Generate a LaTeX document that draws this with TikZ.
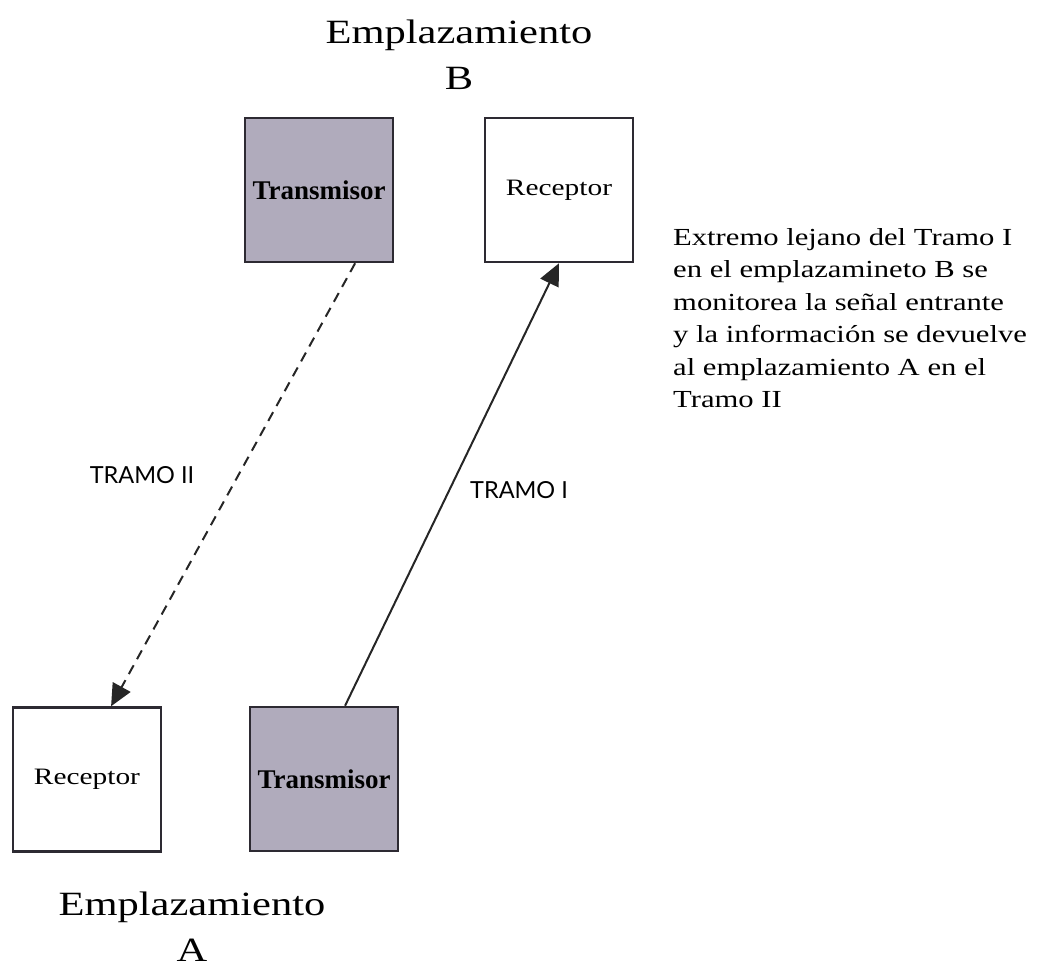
\documentclass[tikz,border=0pt]{standalone}
\usepackage{fontspec}
\setmainfont{Liberation Serif}[FakeStretch=1.25]
\newfontfamily\txfont{Liberation Serif}
\setsansfont{Lato}
\usetikzlibrary{positioning}
\usetikzlibrary{arrows.meta,calc}

\definecolor{boxgray}{RGB}{176,171,188}
\definecolor{edgegray}{RGB}{45,42,50}

\tikzset{
  unit/.style={draw=edgegray, line width=2.5pt, minimum width=148pt, minimum height=144pt,
    inner sep=0pt, font=\fontsize{23.5}{28}\selectfont},
  txunit/.style={unit, fill=boxgray, font=\txfont\bfseries\fontsize{27}{30}\selectfont},
  sitelabel/.style={align=center, inner sep=0pt, font=\fontsize{34}{46}\selectfont},
  tramolabel/.style={inner sep=0pt, font=\sffamily\fontsize{23.5}{26}\selectfont},
  link/.style={line width=2pt, draw=black!85, -{Triangle[length=22pt,width=20pt]}}
}

\begin{document}
\begin{tikzpicture}[x=1pt, y=-1pt]
 \useasboundingbox (0,0) rectangle (1037,968);

 %site B
 \node[sitelabel, anchor=north] (siteB) at (459,20) {Emplazamiento\\B};
 \node[txunit] (txB) at (319,190) {Transmisor};
 \node[unit]   (rxB) at (559,190) {Receptor};

 %site A
 \node[unit]   (rxA) at (87,779.5) {Receptor};
 \node[txunit] (txA) at (324,779) {Transmisor};
 \node[sitelabel, anchor=north] (siteA) at (192,892) {Emplazamiento\\A};

 %links
 \draw[link, dash pattern=on 10pt off 7pt]
   ($(txB.south west)!0.74!(txB.south east)$) -- ($(rxA.north west)!0.66!(rxA.north east)$);
 \draw[link]
   ($(txA.north west)!0.64!(txA.north east)$) -- (rxB.south);

 \node[tramolabel] (tramoII) at (142,475) {TRAMO II};
 \node[tramolabel] (tramoI)  at (519,490) {TRAMO I};

 %note
 \node[anchor=north west, align=left, inner sep=0pt, font=\fontsize{24.5}{32.5}\selectfont]
   (note) at (673,228) {Extremo lejano del Tramo I\\en el emplazamineto B se\\monitorea la señal entrante\\y la información se devuelve\\al emplazamiento A en el\\Tramo II};

\end{tikzpicture}
\end{document}
